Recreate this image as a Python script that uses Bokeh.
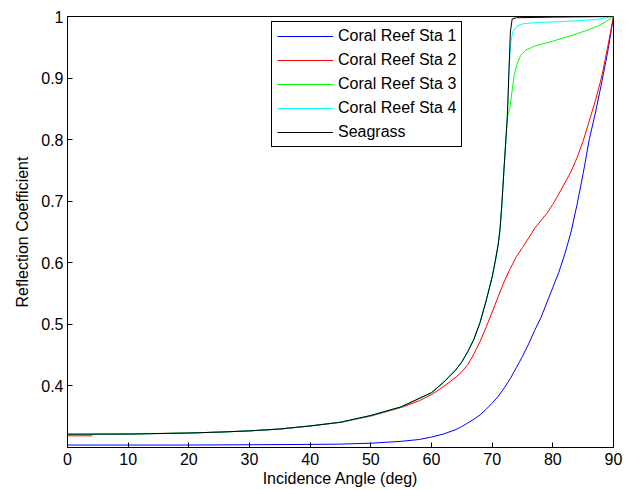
from bokeh.plotting import figure
from bokeh.models import Range1d, FixedTicker, Legend, LegendItem
from bokeh.embed import file_html
from bokeh.resources import INLINE

# ---- data ----
x_ticks = [0, 10, 20, 30, 40, 50, 60, 70, 80, 90]
y_ticks = [0.4, 0.5, 0.6, 0.7, 0.8, 0.9, 1.0]
y_tick_labels = ["0.4", "0.5", "0.6", "0.7", "0.8", "0.9", "1"]

sta1_angle = [0, 20, 40, 45, 50, 55, 58, 60, 62, 64, 65, 66, 67, 68, 69, 70, 71, 72, 73, 74,
              75, 76, 77, 78, 79, 80, 81, 82, 83, 84, 85, 86, 87, 88, 89, 90]
sta1_refl = [0.304, 0.304, 0.305, 0.3055, 0.307, 0.310, 0.313, 0.317, 0.322, 0.329, 0.334, 0.340,
             0.346, 0.353, 0.362, 0.372, 0.383, 0.397, 0.412, 0.430, 0.448, 0.468, 0.490, 0.510,
             0.535, 0.560, 0.585, 0.615, 0.650, 0.695, 0.745, 0.800, 0.843, 0.890, 0.940, 1.000]

sta2_angle = [0, 4, 4.1, 17, 20, 25, 30, 35, 40, 45, 50, 55, 58, 60, 62, 64, 65, 66, 67, 68, 69,
              70, 71, 72, 73, 74, 75, 76, 77, 78, 79, 80, 81, 82, 83, 84, 85, 86, 87, 88, 89, 90]
sta2_refl = [0.319, 0.319, 0.3216, 0.323, 0.3235, 0.325, 0.327, 0.330, 0.335, 0.341, 0.351, 0.365,
             0.376, 0.386, 0.399, 0.414, 0.423, 0.435, 0.452, 0.472, 0.495, 0.520, 0.545, 0.570,
             0.591, 0.610, 0.625, 0.640, 0.656, 0.668, 0.680, 0.695, 0.712, 0.730, 0.748, 0.771,
             0.798, 0.830, 0.863, 0.900, 0.948, 1.000]

common_angle = [0, 10, 17, 20, 25, 30, 35, 40, 45, 50, 55, 60, 62, 64, 65, 66, 67, 68, 69, 70,
                70.5, 71, 71.3, 71.6, 72, 72.5]
common_refl = [0.3216, 0.3218, 0.323, 0.3235, 0.325, 0.327, 0.330, 0.335, 0.341, 0.352, 0.366,
               0.389, 0.406, 0.426, 0.439, 0.456, 0.476, 0.503, 0.538, 0.577, 0.602, 0.630,
               0.655, 0.695, 0.760, 0.837]

sta3_angle = common_angle + [72.9, 73.3, 73.6, 74, 74.7, 75.5, 77, 80, 82, 84, 86, 87.5, 89, 90]
sta3_refl = common_refl + [0.850, 0.880, 0.903, 0.920, 0.937, 0.945, 0.952, 0.960, 0.966, 0.972,
                           0.979, 0.985, 0.993, 1.000]

sta4_angle = common_angle + [72.8, 73.1, 73.4, 74, 75, 77, 82, 87, 90]
sta4_refl = common_refl + [0.920, 0.960, 0.975, 0.984, 0.988, 0.990, 0.992, 0.995, 1.000]

seagrass_angle = common_angle + [72.8, 73.0, 73.3, 74, 80, 90]
seagrass_refl = common_refl + [0.920, 0.975, 0.996, 0.998, 0.999, 1.000]

series_names = ["Coral Reef Sta 1", "Coral Reef Sta 2", "Coral Reef Sta 3",
                "Coral Reef Sta 4", "Seagrass"]
series_x = [sta1_angle, sta2_angle, sta3_angle, sta4_angle, seagrass_angle]
series_y = [sta1_refl, sta2_refl, sta3_refl, sta4_refl, seagrass_refl]
series_colors = ["#0000ff", "#ff0000", "#00ff00", "#00ffff", "#000000"]

FONT = "Liberation Sans"

p = figure(width=627, height=490, x_range=Range1d(0, 90), y_range=Range1d(0.3, 1.0),
           output_backend="svg", toolbar_location=None,
           min_border_left=67, min_border_right=14, min_border_top=16, min_border_bottom=43,
           background_fill_color="white", border_fill_color="white")

p.outline_line_color = "black"
p.outline_line_width = 1
p.outline_line_alpha = 1
p.xgrid.visible = False
p.ygrid.visible = False

p.xaxis.ticker = FixedTicker(ticks=x_ticks)
p.yaxis.ticker = FixedTicker(ticks=y_ticks)
p.yaxis.major_label_overrides = {t: lab for t, lab in zip(y_ticks, y_tick_labels)}

for ax in (p.xaxis[0], p.yaxis[0]):
    ax.axis_line_color = "black"
    ax.major_tick_line_color = "black"
    ax.major_tick_in = 5
    ax.major_tick_out = 0
    ax.minor_tick_line_color = None
    ax.major_label_text_font = FONT
    ax.major_label_text_font_size = "16px"
    ax.major_label_text_color = "black"
    ax.axis_label_text_font = FONT
    ax.axis_label_text_font_size = "16px"
    ax.axis_label_text_font_style = "normal"
    ax.axis_label_text_color = "black"

p.xaxis.axis_label = "Incidence Angle (deg)"
p.yaxis.axis_label = "Reflection Coefficient"
p.xaxis.major_label_standoff = 5
p.xaxis.axis_label_standoff = 2
p.yaxis.major_label_standoff = 4
p.yaxis.axis_label_standoff = 7

renderers = []
for xs, ys, c in zip(series_x, series_y, series_colors):
    r = p.line(xs, ys, line_color=c, line_width=1)
    renderers.append(r)

legend = Legend(items=[LegendItem(label=n, renderers=[r]) for n, r in zip(series_names, renderers)],
                location=(204, 300))
legend.label_text_font = FONT
legend.label_text_font_size = "16px"
legend.label_text_color = "black"
legend.label_height = 18
legend.glyph_height = 18
legend.glyph_width = 56
legend.spacing = 6
legend.padding = 5
legend.label_standoff = 5
legend.border_line_color = "black"
legend.border_line_width = 1
legend.border_line_alpha = 1
legend.background_fill_color = "white"
legend.background_fill_alpha = 1
p.add_layout(legend)

open("out.html", "w").write(file_html(p, INLINE))
